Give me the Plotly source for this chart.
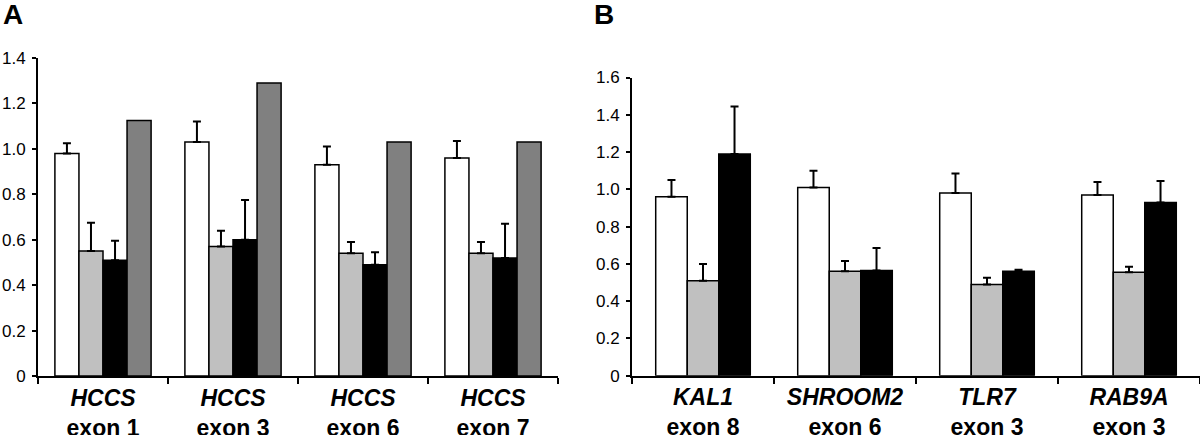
import plotly.graph_objects as go

# ---------- DATA ----------
# Panel A: HCCS exons, four bars per exon
a_cats = ["HCCS exon 1", "HCCS exon 3", "HCCS exon 6", "HCCS exon 7"]
a_ticks = ["<b><i>HCCS</i><br>exon 1</b>", "<b><i>HCCS</i><br>exon 3</b>",
           "<b><i>HCCS</i><br>exon 6</b>", "<b><i>HCCS</i><br>exon 7</b>"]
a_white = [0.98, 1.03, 0.93, 0.96]
a_white_err = [0.045, 0.09, 0.08, 0.075]
a_light = [0.55, 0.57, 0.54, 0.54]
a_light_err = [0.125, 0.07, 0.05, 0.05]
a_black = [0.51, 0.60, 0.49, 0.52]
a_black_err = [0.085, 0.175, 0.055, 0.15]
a_dark = [1.125, 1.29, 1.03, 1.03]

# Panel B: other genes, three bars per exon
b_cats = ["KAL1 exon 8", "SHROOM2 exon 6", "TLR7 exon 3", "RAB9A exon 3"]
b_ticks = ["<b><i>KAL1</i><br>exon 8</b>", "<b><i>SHROOM2</i><br>exon 6</b>",
           "<b><i>TLR7</i><br>exon 3</b>", "<b><i>RAB9A</i><br>exon 3</b>"]
b_white = [0.96, 1.01, 0.98, 0.97]
b_white_err = [0.09, 0.09, 0.105, 0.07]
b_light = [0.51, 0.56, 0.49, 0.555]
b_light_err = [0.09, 0.055, 0.035, 0.03]
b_black = [1.19, 0.565, 0.56, 0.93]
b_black_err = [0.255, 0.12, 0.008, 0.115]

a_yticks = [0, 0.2, 0.4, 0.6, 0.8, 1.0, 1.2, 1.4]
a_ylabels = ["0", "0.2", "0.4", "0.6", "0.8", "1.0", "1.2", "1.4"]
b_yticks = [0, 0.2, 0.4, 0.6, 0.8, 1.0, 1.2, 1.4, 1.6]
b_ylabels = ["0", "0.2", "0.4", "0.6", "0.8", "1.0", "1.2", "1.4", "1.6"]

FONT = "Arial, Liberation Sans, Helvetica, sans-serif"
OUTLINE = dict(color="black", width=1.5)


def err(vals):
    if vals is None:
        return None
    return dict(type="data", array=vals, arrayminus=[0] * len(vals),
                symmetric=False, color="black", thickness=2, width=4)


fig = go.Figure()

# ---------- PANEL A ----------
wa = 0.185
for i, (vals, e, col) in enumerate([(a_white, a_white_err, "white"),
                                     (a_light, a_light_err, "#c0c0c0"),
                                     (a_black, a_black_err, "black"),
                                     (a_dark, None, "#808080")]):
    fig.add_trace(go.Bar(x=a_cats, y=vals, width=wa, offset=-2 * wa + i * wa,
                         marker=dict(color=col, line=OUTLINE),
                         error_y=err(e), xaxis="x", yaxis="y",
                         showlegend=False, hoverinfo="y"))

# ---------- PANEL B ----------
wb = 0.222
for i, (vals, e, col) in enumerate([(b_white, b_white_err, "white"),
                                     (b_light, b_light_err, "#c0c0c0"),
                                     (b_black, b_black_err, "black")]):
    fig.add_trace(go.Bar(x=b_cats, y=vals, width=wb, offset=-1.5 * wb + i * wb,
                         marker=dict(color=col, line=OUTLINE),
                         error_y=err(e), xaxis="x2", yaxis="y2",
                         showlegend=False, hoverinfo="y"))

xcommon = dict(type="category", range=[-0.5, 3.5], showline=True,
               linecolor="black", linewidth=2, ticks="outside",
               tickson="boundaries", ticklen=6, tickwidth=1.5,
               tickcolor="black", showgrid=False, zeroline=False,
               automargin=False,
               tickfont=dict(family=FONT, size=23, color="black"))
ycommon = dict(showline=True, linecolor="black", linewidth=2,
               ticks="outside", ticklen=4, tickwidth=1.5, tickcolor="black",
               showgrid=False, zeroline=False, ticklabelstandoff=3,
               automargin=False,
               tickfont=dict(family=FONT, size=17, color="black"))

fig.update_layout(
    width=1200, height=435,
    margin=dict(l=0, r=0, t=0, b=0, autoexpand=False),
    paper_bgcolor="white", plot_bgcolor="white",
    barmode="overlay",
    xaxis=dict(xcommon, domain=[38 / 1200, 558 / 1200], anchor="y",
               categoryorder="array", categoryarray=a_cats,
               tickvals=a_cats, ticktext=a_ticks),
    yaxis=dict(ycommon, domain=[0.1356, 0.8667], anchor="x", range=[0, 1.4],
               tickvals=a_yticks, ticktext=a_ylabels),
    xaxis2=dict(xcommon, domain=[632 / 1200, 1.0], anchor="y2",
                categoryorder="array", categoryarray=b_cats,
                tickvals=b_cats, ticktext=b_ticks),
    yaxis2=dict(ycommon, domain=[0.1363, 0.8218], anchor="x2", range=[0, 1.6],
                tickvals=b_yticks, ticktext=b_ylabels),
    annotations=[
        dict(text="<b>A</b>", xref="paper", yref="paper", x=1 / 1200,
             y=0.9674, xanchor="left", yanchor="middle", showarrow=False,
             font=dict(family=FONT, size=28, color="black")),
        dict(text="<b>B</b>", xref="paper", yref="paper", x=592 / 1200,
             y=0.9674, xanchor="left", yanchor="middle", showarrow=False,
             font=dict(family=FONT, size=28, color="black")),
    ],
)

# the page body has a default 8px margin; drop it so the figure fills the window
fig.write_html("out.html",
               config={"displayModeBar": False},
               post_script="document.body.style.margin='0';")
